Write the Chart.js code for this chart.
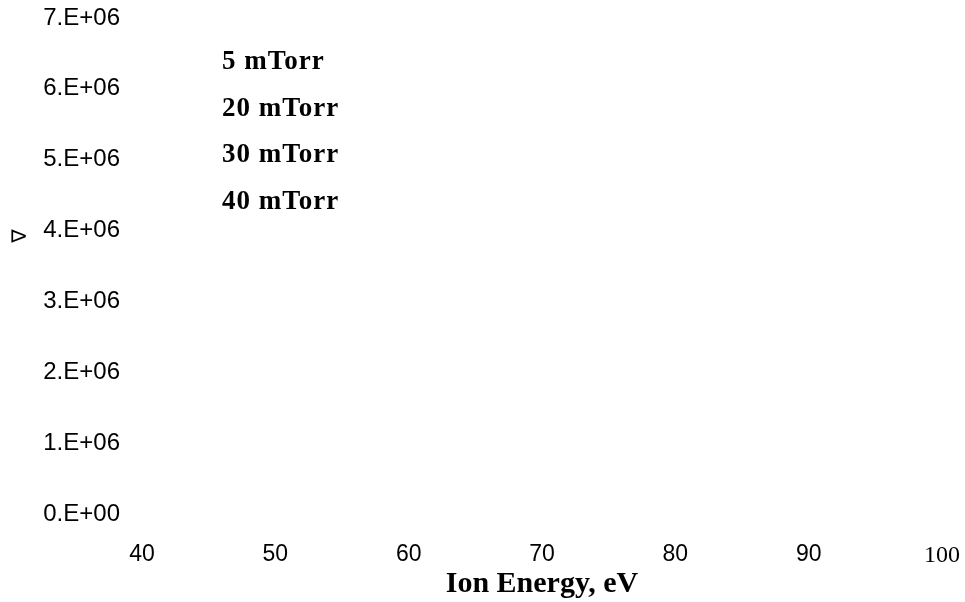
<!DOCTYPE html>
<html>
<head>
<meta charset="utf-8">
<script src="https://cdn.jsdelivr.net/npm/chart.js@4/dist/chart.umd.min.js"></script>
<style>
  html, body { margin: 0; padding: 0; background: #fff; }
</style>
</head>
<body>
<canvas id="chart1" width="965" height="602"></canvas>
<script>
// Pressures shown in the legend
const seriesLabels = ['5 mTorr', '20 mTorr', '30 mTorr', '40 mTorr'];

// No marks are visible in the picture, so every series stays empty
const data5 = [];
const data20 = [];
const data30 = [];
const data40 = [];

// Axis ticks
const xTicks = [40, 50, 60, 70, 80, 90, 100];
const yTicks = [0, 1e6, 2e6, 3e6, 4e6, 5e6, 6e6, 7e6];

// Legend drawn as plain text inside the plot
const legendText = {
    id: 'legendText',
    afterDraw(chart) {
        const { ctx, chartArea } = chart;
        ctx.save();
        ctx.font = 'bold 27px "Liberation Serif"';
        ctx.letterSpacing = '1px';
        ctx.fillStyle = '#000';
        ctx.textBaseline = 'middle';
        chart.data.datasets.forEach((ds, i) => {
            ctx.fillText(ds.label, chartArea.left + 80, chartArea.top + 44 + i * 46.7);
        });
        ctx.restore();
    }
};

function formatY(value) {
    if (value === 0) return '0.E+00';
    return (value / 1e6) + '.E+06';  // mesmo formato do Excel
}

const ctx = document.getElementById('chart1').getContext('2d');
new Chart(ctx, {
    type: 'line',
    data: {
        datasets: [
            { label: seriesLabels[0], data: data5, borderColor: '#000' },
            { label: seriesLabels[1], data: data20, borderColor: '#000' },
            { label: seriesLabels[2], data: data30, borderColor: '#000' },
            { label: seriesLabels[3], data: data40, borderColor: '#000' }
        ]
    },
    options: {
        responsive: false,
        animation: false,
        devicePixelRatio: 1,
        layout: { padding: { top: 18, right: 23, left: 0, bottom: 0 } },
        plugins: {
            legend: { display: false },
            tooltip: { enabled: false }
        },
        scales: {
            x: {
                type: 'linear',
                position: 'bottom',
                min: xTicks[0],
                max: xTicks[xTicks.length - 1],
                afterFit: (s) => {
                    s.height = 88;
                    s.paddingLeft = 0;
                    s.paddingRight = 0;
                },
                grid: { display: false, drawTicks: false },
                border: { display: false },
                ticks: {
                    stepSize: 10,
                    padding: 27,
                    color: '#000',
                    font: (c) => (c.tick && c.tick.value === 100)
                        ? { family: 'Liberation Serif', size: 24 }
                        : { family: 'Liberation Sans', size: 23 }
                },
                title: {
                    display: true,
                    text: 'Ion Energy, eV',
                    color: '#000',
                    font: { family: 'Liberation Serif', size: 30, weight: 'bold' },
                    padding: { top: 0, bottom: 0 }
                }
            },
            y: {
                min: yTicks[0],
                max: yTicks[yTicks.length - 1],
                afterFit: (s) => {
                    s.width = 142;
                    s.paddingTop = 0;
                    s.paddingBottom = 0;
                },
                grid: { display: false, drawTicks: false },
                border: { display: false },
                ticks: {
                    stepSize: 1e6,
                    padding: 22,
                    color: '#000',
                    font: { family: 'Liberation Sans', size: 24 },
                    callback: formatY
                },
                title: {
                    display: true,
                    text: '\u2003\u2003\u2003\u2207',
                    color: '#000',
                    font: { family: 'DejaVu Sans', size: 20 },
                    padding: { top: 9, bottom: 0 }
                }
            }
        }
    },
    plugins: [legendText]
});
</script>
</body>
</html>
